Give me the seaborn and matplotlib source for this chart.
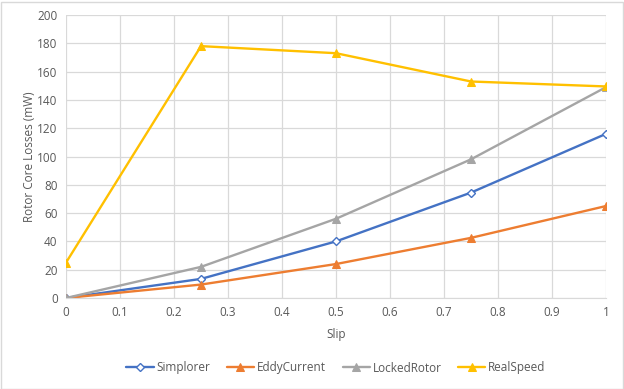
import pandas as pd
import seaborn as sns
import matplotlib.pyplot as plt

slip = [0, 0.25, 0.5, 0.75, 1.0]
simplorer = [0, 13.5, 40, 74.5, 116]
eddy_current = [0, 9.5, 24, 42.5, 65]
locked_rotor = [0, 22, 56, 98, 149]
real_speed = [25, 178, 173, 153, 149.5]

series = {
    'Simplorer': simplorer,
    'EddyCurrent': eddy_current,
    'LockedRotor': locked_rotor,
    'RealSpeed': real_speed,
}
colors = {'Simplorer': '#4472C4', 'EddyCurrent': '#ED7D31',
          'LockedRotor': '#A5A5A5', 'RealSpeed': '#FFC000'}

sns.set_style("white")
plt.rcParams['font.family'] = ['Open Sans', 'DejaVu Sans']
text_col = '#595959'

fig = plt.figure(figsize=(6.24, 3.89), dpi=100)
ax = fig.add_axes([66 / 624, 1 - 298 / 389, 540 / 624, 283 / 389])

for name, vals in series.items():
    df = pd.DataFrame({'Slip': slip, 'Loss': vals})
    if name == 'Simplorer':
        kw = dict(marker='D', markersize=4.5, markerfacecolor='white',
                  markeredgecolor=colors[name], markeredgewidth=1.0)
    else:
        kw = dict(marker='^', markersize=6, markerfacecolor=colors[name],
                  markeredgecolor=colors[name])
    sns.lineplot(data=df, x='Slip', y='Loss', ax=ax, color=colors[name],
                 linewidth=1.7, label=name, **kw)

ax.set_xlim(0, 1)
ax.set_ylim(0, 200)
ax.set_xticks([i / 10 for i in range(11)])
ax.set_xticklabels(['0', '0.1', '0.2', '0.3', '0.4', '0.5', '0.6', '0.7', '0.8', '0.9', '1'])
ax.set_yticks(range(0, 201, 20))
ax.grid(True, color='#D9D9D9', linewidth=0.9)
ax.set_axisbelow(True)
for s in ['top', 'right']:
    ax.spines[s].set_visible(False)
ax.spines['left'].set_visible(False)
ax.spines['bottom'].set_color('#D9D9D9')
ax.tick_params(axis='both', colors=text_col, labelsize=8.5, length=0, pad=6)
ax.set_xlabel('Slip', color=text_col, fontsize=8.5, labelpad=6)
ax.set_ylabel('Rotor Core Losses (mW)', color=text_col, fontsize=8.5)
ax.yaxis.set_label_coords(-30 / 540, 0.5)

ax.legend(loc='center', bbox_to_anchor=(0.5, -(368 - 298) / 283),
          ncol=4, frameon=False, fontsize=8.5, labelcolor=text_col,
          handlelength=2.3, columnspacing=1.4, handletextpad=0.25)

fig.patches.append(plt.Rectangle((0.5 / 624, 0.5 / 389), 622 / 624, 387 / 389,
                                 transform=fig.transFigure, fill=False,
                                 edgecolor='#D9D9D9', linewidth=1))

fig.savefig('out.png', dpi=100)
